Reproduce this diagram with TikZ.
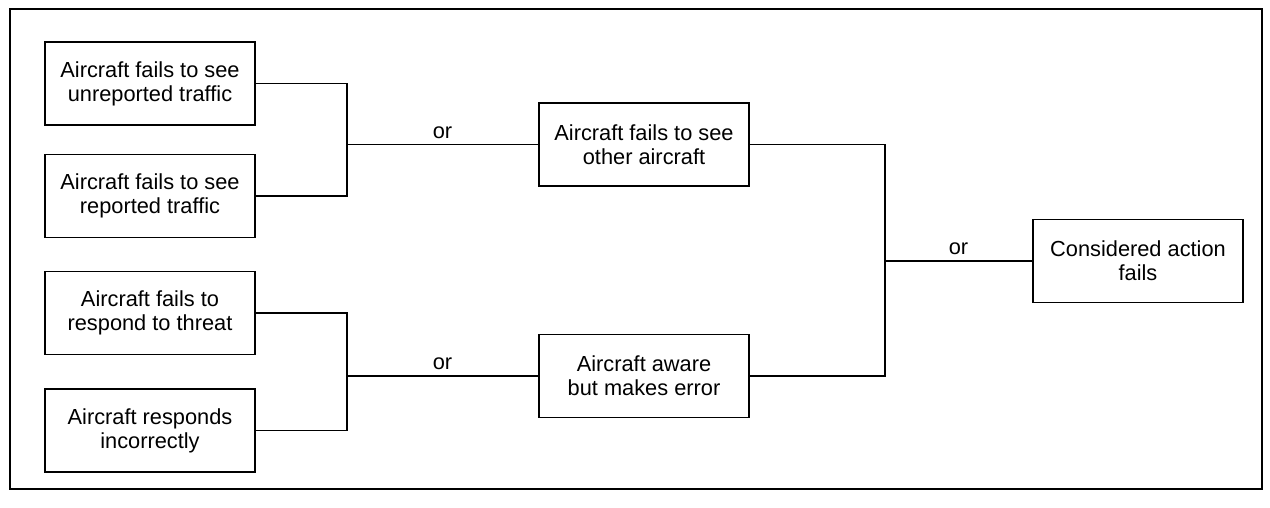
\documentclass[tikz,border=0pt]{standalone}
\usepackage{fontspec}
\setmainfont{Liberation Sans}
\usepackage{tikz}
\usetikzlibrary{positioning, calc}

\begin{document}
\begin{tikzpicture}[
    font=\fontsize{12.4}{13.6}\selectfont,
    event/.style={
        draw,
        line width=1pt,
        minimum width=4.2cm,
        minimum height=1.66cm,
        align=center
    },
    link/.style={
        line width=0.6pt
    },
    gate/.style={
        above,
        inner sep=3pt
    }
]

\useasboundingbox (0,0) rectangle (25.4,10.16);

% Outer frame
\draw[line width=0.8pt] (0.2,0.38) rectangle (25.24,9.98);

% Basic events
\node[event] (unrep) at (3.0,8.49)
{Aircraft fails to see\\unreported traffic};

\node[event] (rep) at (3.0,6.24)
{Aircraft fails to see\\reported traffic};

\node[event] (threat) at (3.0,3.90)
{Aircraft fails to\\respond to threat};

\node[event] (wrong) at (3.0,1.55)
{Aircraft responds\\incorrectly};

% Intermediate events
\node[event] (seeother) at (12.88,7.27)
{Aircraft fails to see\\other aircraft};

\node[event] (aware) at (12.88,2.64)
{Aircraft aware\\but makes error};

% Top event
\node[event] (topfail) at (22.76,4.94)
{Considered action\\fails};

% Gate junctions
\coordinate (jsee) at (6.94,7.27);
\coordinate (jact) at (6.94,2.64);
\coordinate (jtop) at (17.7,4.94);

% Connectors
\draw[link] (unrep.east) -| (jsee) |- (rep.east);
\draw[link] (jsee) -- node[gate] {or} (seeother.west);

\draw[link] (threat.east) -| (jact) |- (wrong.east);
\draw[link] (jact) -- node[gate] {or} (aware.west);

\draw[link] (seeother.east) -| (jtop) |- (aware.east);
\draw[link] (jtop) -- node[gate] {or} (topfail.west);

\end{tikzpicture}
\end{document}
